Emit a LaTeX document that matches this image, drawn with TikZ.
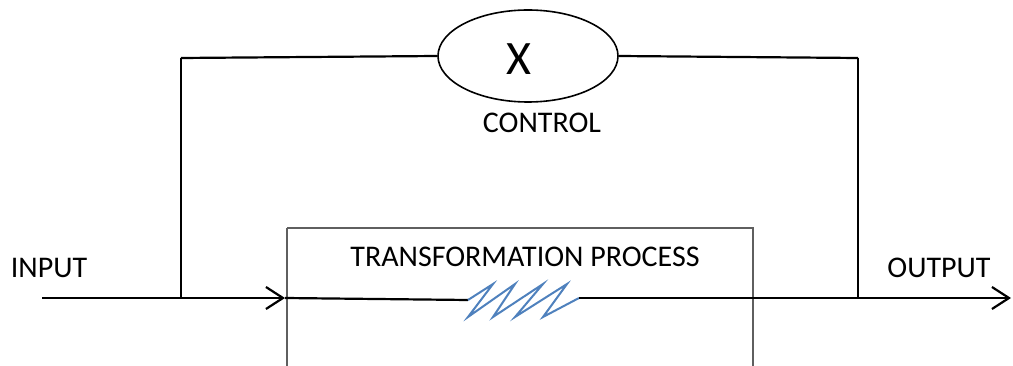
\documentclass[tikz,border=0pt]{standalone}
\usepackage{fontspec}
\setmainfont{Carlito}
\usetikzlibrary{arrows.meta,shapes.geometric}
\begin{document}
\begin{tikzpicture}[x=1pt,y=-1pt,
  wire/.style={line width=2.2pt,black},
  chev/.style={-{Straight Barb[length=17pt,width=22pt,line width=2.2pt]}},
  lbl/.style={font=\fontsize{30}{34}\selectfont,inner sep=0pt},
  boxline/.style={line width=2pt,draw={rgb,255:red,95;green,95;blue,95}},
  zig/.style={line width=2pt,draw={rgb,255:red,79;green,129;blue,189},line join=miter}]
\useasboundingbox (0,0) rectangle (1013,366);
\clip (0,0) rectangle (1013,366);
% control ellipse
\node[ellipse,draw,line width=1.6pt,minimum width=180pt,minimum height=92pt,inner sep=0pt] (ctrl) at (528,56) {};
\node[font=\fontsize{48}{52}\selectfont,inner sep=0pt] (x) at (519,59) {X};
\node[lbl] (ctrllbl) at (542,123) {CONTROL};
% coordinates
\coordinate (tl) at (181,58);
\coordinate (tr) at (858,58);
\coordinate (bl) at (181,298);
\coordinate (br) at (858,298);
\coordinate (in) at (42,298);
\coordinate (boxl) at (285,298);
\coordinate (zs) at (468,300);
\coordinate (ze) at (579,298);
\coordinate (out) at (1011,298);
% transformation box
\draw[boxline] (287,228) -- (753,228) -- (753,370);
\draw[boxline] (287,228) -- (287,370);
\node[lbl] (tp) at (525,257) {TRANSFORMATION PROCESS};
\node[lbl] (inlbl) at (49,268) {INPUT};
\node[lbl] (outlbl) at (939,268) {OUTPUT};
% wires
\draw[wire] (tl) -- (ctrl.west);
\draw[wire] (ctrl.east) -- (tr);
\draw[wire] (tl) -- (bl);
\draw[wire] (tr) -- (br);
\draw[wire,chev] (in) -- (boxl);
\draw[wire] (boxl) -- (zs);
\draw[zig] (zs) -- (493,284) -- (468,317) -- (515,284) -- (493,317) -- (543,284) -- (515,317) -- (567,284) -- (543,317) -- (ze);
\draw[wire,chev] (ze) -- (out);
\end{tikzpicture}
\end{document}
